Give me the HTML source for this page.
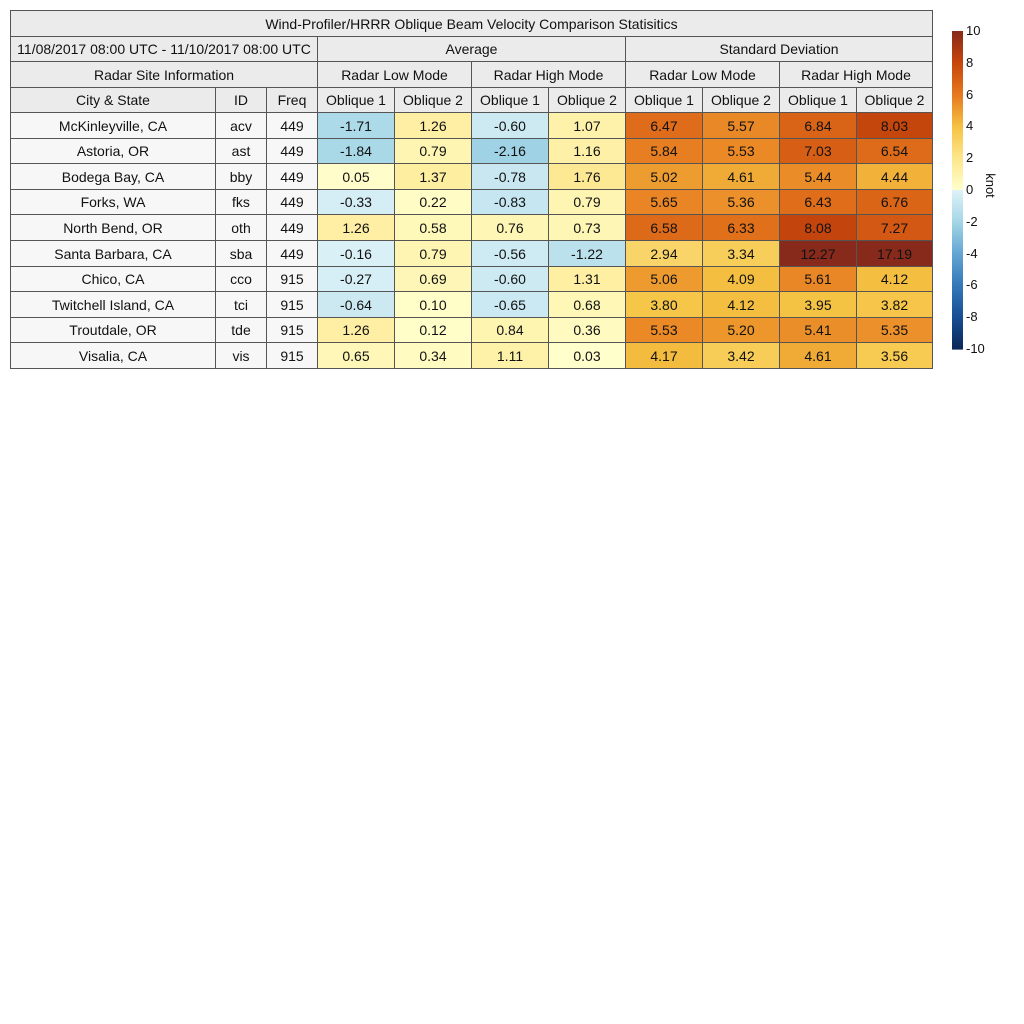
<!DOCTYPE html>
<html><head><meta charset="utf-8">
<style>
body{margin:0;background:#fff;width:1024px;height:1024px;position:relative;overflow:hidden;font-family:"Liberation Sans",Arial,sans-serif;}
.c{position:absolute;box-sizing:border-box;border:1px solid #555;display:flex;align-items:center;justify-content:center;font-size:14px;color:#111;}
.h{background:#ebebeb;}
.r{background:#f7f7f7;}
.t{position:absolute;font-size:13px;color:#111;}
</style></head><body>
<div id="tbl"></div>
<div id="cb"></div>
<script>
const sites=["McKinleyville, CA","Astoria, OR","Bodega Bay, CA","Forks, WA","North Bend, OR","Santa Barbara, CA","Chico, CA","Twitchell Island, CA","Troutdale, OR","Visalia, CA"];
const ids=["acv","ast","bby","fks","oth","sba","cco","tci","tde","vis"];
const freqs=["449","449","449","449","449","449","915","915","915","915"];
const avgLow1=[-1.71,-1.84,0.05,-0.33,1.26,-0.16,-0.27,-0.64,1.26,0.65];
const avgLow2=[1.26,0.79,1.37,0.22,0.58,0.79,0.69,0.10,0.12,0.34];
const avgHigh1=[-0.60,-2.16,-0.78,-0.83,0.76,-0.56,-0.60,-0.65,0.84,1.11];
const avgHigh2=[1.07,1.16,1.76,0.79,0.73,-1.22,1.31,0.68,0.36,0.03];
const sdLow1=[6.47,5.84,5.02,5.65,6.58,2.94,5.06,3.80,5.53,4.17];
const sdLow2=[5.57,5.53,4.61,5.36,6.33,3.34,4.09,4.12,5.20,3.42];
const sdHigh1=[6.84,7.03,5.44,6.43,8.08,12.27,5.61,3.95,5.41,4.61];
const sdHigh2=[8.03,6.54,4.44,6.76,7.27,17.19,4.12,3.82,5.35,3.56];
const cbTicks=[10,8,6,4,2,0,-2,-4,-6,-8,-10];

const stops=[[-10,[10,40,88]],[-8,[24,78,148]],[-6,[52,120,185]],[-4,[100,166,210]],[-2,[164,214,230]],[-0.01,[222,242,248]],[0,[255,255,204]],[2,[253,230,140]],[4,[245,194,66]],[6,[230,120,30]],[8,[198,70,12]],[10,[135,42,28]]];
function col(v){v=Math.max(-10,Math.min(10,v));for(let i=0;i<stops.length-1;i++){const a=stops[i],b=stops[i+1];if(v>=a[0]&&v<=b[0]){const t=(v-a[0])/(b[0]-a[0]||1);const c=a[1].map((x,k)=>Math.round(x+(b[1][k]-x)*t));return`rgb(${c})`;}}return'#fff';}

const T=document.getElementById('tbl');
const X=[10,215,266,317,394,471,548,625,702,779,856,932];
const Y=[10,36,61,87,112];
const rh=25.6;
function cell(x0,x1,y0,y1,txt,cls,bg,name){const d=document.createElement('div');d.className='c '+cls;d.style.left=x0+'px';d.style.top=y0+'px';d.style.width=(x1-x0+1)+'px';d.style.height=(y1-y0+1)+'px';if(bg)d.style.background=bg;d.textContent=txt;


T.appendChild(d);}
cell(X[0],X[11],Y[0],Y[1],'Wind-Profiler/HRRR Oblique Beam Velocity Comparison Statisitics','h','','table-title');
cell(X[0],X[3],Y[1],Y[2],'11/08/2017 08:00 UTC - 11/10/2017 08:00 UTC','h','','date-range');
cell(X[3],X[7],Y[1],Y[2],'Average','h','','average-header');
cell(X[7],X[11],Y[1],Y[2],'Standard Deviation','h','','std-dev-header');
cell(X[0],X[3],Y[2],Y[3],'Radar Site Information','h','','site-info-header');
[['Radar Low Mode',3],['Radar High Mode',5],['Radar Low Mode',7],['Radar High Mode',9]].forEach(([s,i])=>cell(X[i],X[i+2],Y[2],Y[3],s,'h','','mode-header'));
['City & State','ID','Freq','Oblique 1','Oblique 2','Oblique 1','Oblique 2','Oblique 1','Oblique 2','Oblique 1','Oblique 2'].forEach((s,i)=>cell(X[i],X[i+1],Y[3],Y[4],s,'h','','column-header'));
const series=[avgLow1,avgLow2,avgHigh1,avgHigh2,sdLow1,sdLow2,sdHigh1,sdHigh2];
for(let r=0;r<sites.length;r++){const y0=Math.round(Y[4]+r*rh),y1=Math.round(Y[4]+(r+1)*rh);
cell(X[0],X[1],y0,y1,sites[r],'r','','site-name');cell(X[1],X[2],y0,y1,ids[r],'r','','site-id');cell(X[2],X[3],y0,y1,freqs[r],'r','','site-freq');
series.forEach((s,k)=>cell(X[3+k],X[4+k],y0,y1,s[r].toFixed(2),'',col(s[r]),'value-cell'));}

const C=document.getElementById('cb');
const cbTop=31,cbBot=349,cx=952,cw=11;
const ns='http://www.w3.org/2000/svg';const svg=document.createElementNS(ns,'svg');svg.setAttribute('width',1024);svg.setAttribute('height',400);svg.style.position='absolute';svg.style.left='0';svg.style.top='0';
for(let i=0;i<200;i++){const v=10-20*(i+0.5)/200;const r=document.createElementNS(ns,'rect');r.setAttribute('x',cx);r.setAttribute('y',cbTop+(cbBot-cbTop)*i/200);r.setAttribute('width',cw);r.setAttribute('height',(cbBot-cbTop)/200+0.6);r.setAttribute('fill',col(v));svg.appendChild(r);}
C.appendChild(svg);
function ypos(v){return cbTop+(10-v)/20*(cbBot-cbTop);}
cbTicks.forEach(v=>{const d=document.createElement('div');d.className='t';d.style.left='966px';d.style.top=(ypos(v)-8)+'px';d.textContent=v;


C.appendChild(d);});
const k=document.createElement('div');k.className='t';k.style.left='978px';k.style.top='178px';k.style.transform='rotate(90deg)';k.textContent='knot';


C.appendChild(k);
</script>
</body></html>
